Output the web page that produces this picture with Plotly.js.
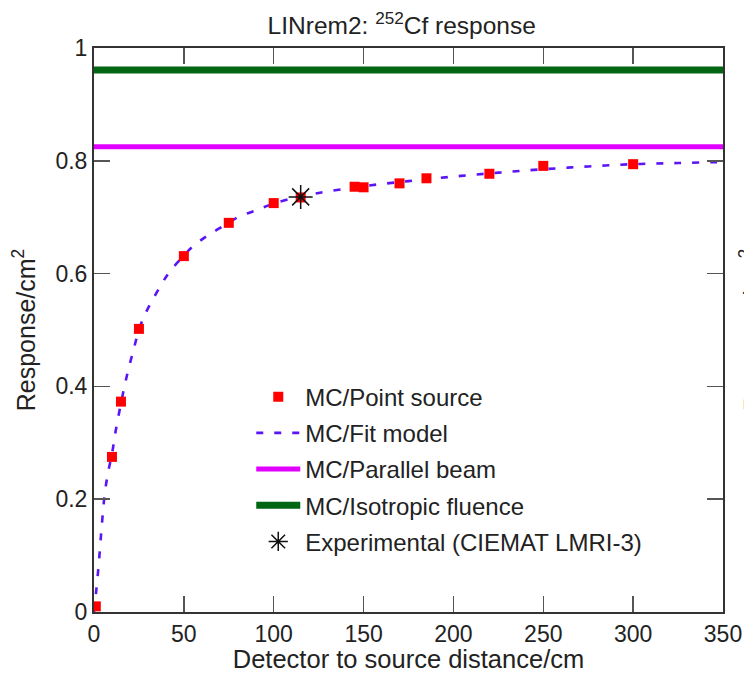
<!DOCTYPE html>
<html>
<head>
<meta charset="utf-8">
<script src="https://cdn.plot.ly/plotly-3.0.1.min.js"></script>
<style>html,body{margin:0;padding:0;background:#fff;}#chart{width:744px;height:673px;}</style>
</head>
<body>
<div id="chart"></div>
<script>
// ---- data ----
const pointX = [1, 10, 15, 25, 50, 75, 100, 115, 145, 150, 170, 185, 220, 250, 300];
const pointY = [0.010, 0.275, 0.373, 0.502, 0.631, 0.690, 0.725, 0.735, 0.754, 0.753, 0.760, 0.769, 0.777, 0.791, 0.794];

const fitX = [0, 1, 2.5, 4, 6, 8, 10, 12, 15, 18, 22, 25, 28, 32, 37, 42, 50, 55, 63, 75, 80, 90, 100, 115, 125, 150, 175, 200, 225, 250, 275, 300, 325, 350];
const fitY = [0, 0.03, 0.08, 0.14, 0.21, 0.25, 0.28, 0.32, 0.37, 0.415, 0.465, 0.50, 0.525, 0.55, 0.578, 0.603, 0.632, 0.648, 0.667, 0.690, 0.700, 0.712, 0.724, 0.737, 0.743, 0.755, 0.764, 0.772, 0.779, 0.785, 0.790, 0.794, 0.796, 0.798];

const beamX = [0, 350];
const parallelBeam = [0.825, 0.825];
const isotropic = [0.961, 0.961];

const expX = [115];
const expY = [0.736];

const xTicks = [0, 50, 100, 150, 200, 250, 300, 350];
const yTicks = [0, 0.2, 0.4, 0.6, 0.8, 1];

const names = ['MC/Point source', 'MC/Fit model', 'MC/Parallel beam', 'MC/Isotropic fluence', 'Experimental (CIEMAT LMRI-3)'];

const FAM = 'Liberation Sans, Arial, sans-serif';

const traces = [
  {x: fitX, y: fitY, mode: 'lines', name: names[1], legendrank: 2, legendgroup: 'b',
   line: {color: '#5a14f5', width: 2.6, dash: '7px,11px', shape: 'spline'}},
  {x: beamX, y: parallelBeam, mode: 'lines', name: names[2], legendrank: 3, legendgroup: 'c',
   line: {color: '#e100ff', width: 5}},
  {x: beamX, y: isotropic, mode: 'lines', name: names[3], legendrank: 4, legendgroup: 'd',
   line: {color: '#006614', width: 7}},
  {x: pointX, y: pointY, mode: 'markers', name: names[0], legendrank: 1, legendgroup: 'a',
   marker: {symbol: 'square', color: '#ff0000', size: 10}},
  {x: expX, y: expY, mode: 'markers', name: names[4], legendrank: 5, legendgroup: 'e',
   marker: {symbol: 'asterisk-open', size: 20, color: '#111', line: {color: '#111', width: 1.5}}}
];

const tickFont = {family: FAM, size: 23, color: '#222'};

const layout = {
  width: 744, height: 673,
  margin: {l: 94, r: 21, t: 48, b: 61},
  paper_bgcolor: '#fff', plot_bgcolor: '#fff',
  font: {family: FAM, size: 20, color: '#222'},
  title: {text: 'LINrem2: <sup>252</sup>Cf response', x: 0.54, xanchor: 'center', y: 0.962, yanchor: 'middle',
          font: {family: FAM, size: 24.5, color: '#222'}},
  xaxis: {range: [0, 350], tickvals: xTicks, ticktext: xTicks.map(String), ticks: 'inside', ticklen: 16,
          tickwidth: 1.5, tickcolor: '#555', mirror: 'ticks', showline: true, linecolor: '#333', linewidth: 2,
          showgrid: false, zeroline: false, tickfont: tickFont,
          title: {text: 'Detector to source distance/cm', font: {family: FAM, size: 25.5, color: '#222'}, standoff: 6}},
  yaxis: {range: [0, 1], tickvals: yTicks, ticktext: yTicks.map(String), ticks: 'inside', ticklen: 16,
          tickwidth: 1.5, tickcolor: '#555', mirror: 'ticks', showline: true, linecolor: '#333', linewidth: 2,
          showgrid: false, zeroline: false, tickfont: tickFont,
          title: {text: 'Response/cm<sup>2</sup>', font: {family: FAM, size: 25, color: '#222'}, standoff: 13}},
  legend: {x: 0.25, y: 0.421, xanchor: 'left', yanchor: 'top', bgcolor: 'rgba(0,0,0,0)', borderwidth: 0,
           font: {family: FAM, size: 24, color: '#222'}, itemwidth: 44,
           traceorder: 'grouped', tracegroupgap: 2},
  annotations: [
    {text: 'Response/cm<sup>2</sup>', xref: 'paper', yref: 'paper', x: 1.045, y: 0.5, xanchor: 'center', yanchor: 'middle',
     textangle: -90, showarrow: false, font: {family: FAM, size: 25, color: '#222'}}
  ],
  showlegend: true
};

Plotly.newPlot('chart', traces, layout, {staticPlot: true, displayModeBar: false});
</script>
</body>
</html>
